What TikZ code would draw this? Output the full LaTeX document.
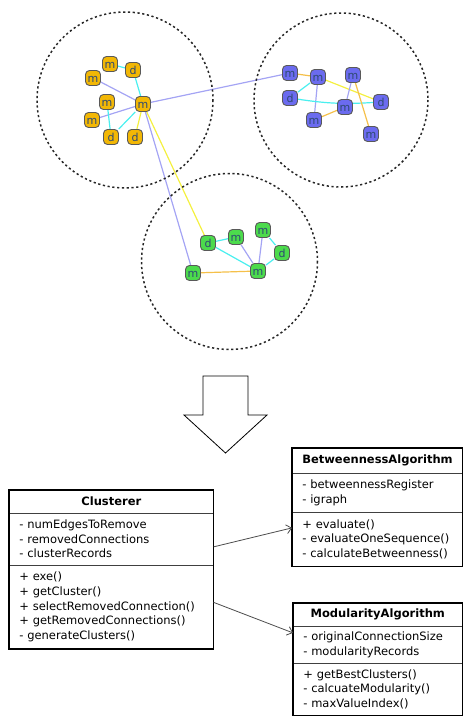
\documentclass[tikz,border=0pt]{standalone}
\usepackage{fontspec}
\setsansfont{DejaVu Sans}
\usetikzlibrary{shapes.multipart,arrows.meta,backgrounds}

\definecolor{nodeorange}{HTML}{F2B705}
\definecolor{nodeblue}{HTML}{6B6BEF}
\definecolor{nodegreen}{HTML}{4CDB4C}
\definecolor{edgecyan}{HTML}{4AEFEF}
\definecolor{edgelav}{HTML}{A4A4F4}
\definecolor{edgeyellow}{HTML}{F4F040}
\definecolor{edgeorange}{HTML}{F5C04A}
\definecolor{lettercol}{HTML}{2E4A73}

\tikzset{
  vertex/.style={draw=black!65, line width=0.9pt, rounded corners=4pt, minimum size=15pt,
    inner sep=0pt, text height=8pt, text depth=0pt, text=lettercol,
    font=\sffamily\fontsize{11}{11}\selectfont},
  link/.style={line width=1.2pt},
  cluster/.style={draw=black!85, line width=1.5pt, dash pattern=on 2.2pt off 2.6pt},
  umlclass/.style={rectangle split, rectangle split parts=3, draw=black!75, line width=0.6pt,
    inner xsep=10pt, inner ysep=6.5pt, align=left, anchor=north west,
    font=\sffamily\fontsize{11.5}{14.8}\selectfont},
  assoc/.style={draw=black!70, line width=0.8pt, -{Straight Barb[length=5pt,width=9pt]}}
}

\begin{document}
\begin{tikzpicture}[x=1pt, y=-1pt]

    \useasboundingbox (0,0) rectangle (465,716);

    %% Clusters
    \draw[cluster] (125,100) circle (88);
    \draw[cluster] (341,100) circle (87);
    \draw[cluster] (229.5,261.5) circle (88);

    % Orange cluster
    \node[vertex, fill=nodeorange] (o1) at (110,64) {m};
    \node[vertex, fill=nodeorange] (o2) at (133,70) {d};
    \node[vertex, fill=nodeorange] (o3) at (93,78) {m};
    \node[vertex, fill=nodeorange] (o4) at (107,102) {m};
    \node[vertex, fill=nodeorange] (o5) at (143,104) {m};
    \node[vertex, fill=nodeorange] (o6) at (92,120) {m};
    \node[vertex, fill=nodeorange] (o7) at (111,137) {d};
    \node[vertex, fill=nodeorange] (o8) at (135,137) {d};

    % Blue cluster
    \node[vertex, fill=nodeblue] (b1) at (290,73) {m};
    \node[vertex, fill=nodeblue] (b2) at (318,77) {m};
    \node[vertex, fill=nodeblue] (b3) at (353,75) {m};
    \node[vertex, fill=nodeblue] (b4) at (290,98) {d};
    \node[vertex, fill=nodeblue] (b5) at (345,107) {m};
    \node[vertex, fill=nodeblue] (b6) at (381,102) {d};
    \node[vertex, fill=nodeblue] (b7) at (314,120) {m};
    \node[vertex, fill=nodeblue] (b8) at (371,134) {m};

    % Green cluster
    \node[vertex, fill=nodegreen] (g1) at (208,243) {d};
    \node[vertex, fill=nodegreen] (g2) at (236,237) {m};
    \node[vertex, fill=nodegreen] (g3) at (263,230) {m};
    \node[vertex, fill=nodegreen] (g4) at (282,253) {d};
    \node[vertex, fill=nodegreen] (g5) at (193,273) {m};
    \node[vertex, fill=nodegreen] (g6) at (258,271) {m};

    % Links
    \begin{scope}[on background layer]
        \draw[link, edgecyan] (o1) -- (o2);
        \draw[link, edgecyan] (o2) -- (o5);
        \draw[link, edgelav] (o3) -- (o5);
        \draw[link, edgelav] (o6) -- (o5);
        \draw[link, edgecyan] (o4) -- (o7);
        \draw[link, edgecyan] (o5) -- (o7);
        \draw[link, edgeyellow] (o5) -- (o8);
        \draw[link, edgelav] (o5) -- (b1);
        \draw[link, edgeyellow] (o5) -- (g1);
        \draw[link, edgelav] (o5) -- (g5);
        \draw[link, edgeorange] (b1) -- (b2);
        \draw[link, edgeyellow] (b2) -- (b6);
        \draw[link, edgecyan] (b2) -- (b4);
        \draw[link, edgelav] (b2) -- (b7);
        \draw[link, edgecyan] (b4) to[bend right=6] (b6);
        \draw[link, edgeorange] (b7) -- (b5);
        \draw[link, edgelav] (b3) -- (b5);
        \draw[link, edgeorange] (b3) -- (b8);
        \draw[link, edgecyan] (g1) -- (g2);
        \draw[link, edgecyan] (g1) -- (g6);
        \draw[link, edgelav] (g2) -- (g6);
        \draw[link, edgelav] (g3) -- (g6);
        \draw[link, edgecyan] (g3) -- (g4);
        \draw[link, edgecyan] (g4) -- (g6);
        \draw[link, edgeorange] (g5) -- (g6);
    \end{scope}

    %% Transition arrow
    \draw[line width=0.8pt] (203,376) -- (248,376) -- (248,415) -- (267,415) -- (225.5,453)
        -- (184,415) -- (203,415) -- cycle;

    %% Classes
    \node[umlclass, text width=184pt] (clusterer) at (9,490) {%
        {\centering\bfseries Clusterer\par}
        \nodepart{two}
        - numEdgesToRemove\\
        - removedConnections\\
        - clusterRecords
        \nodepart{three}
        + exe()\\
        + getCluster()\\
        + selectRemovedConnection()\\
        + getRemovedConnections()\\
        - generateClusters()};
    \draw[line width=1.6pt] (clusterer.north west) rectangle (clusterer.south east);

    \node[umlclass, text width=150pt] (betweenness) at (292,448) {%
        {\centering\bfseries BetweennessAlgorithm\par}
        \nodepart{two}
        - betweennessRegister\\
        - igraph
        \nodepart{three}
        + evaluate()\\
        - evaluateOneSequence()\\
        - calculateBetweenness()};
    \draw[line width=1.6pt] (betweenness.north west) rectangle (betweenness.south east);

    \node[umlclass, text width=149pt, inner ysep=5.5pt] (modularity) at (293,603) {%
        {\centering\bfseries ModularityAlgorithm\par}
        \nodepart{two}
        - originalConnectionSize\\
        - modularityRecords
        \nodepart{three}
        + getBestClusters()\\
        - calcuateModularity()\\
        - maxValueIndex()\\[6pt]};
    \draw[line width=1.6pt] (modularity.north west) rectangle (modularity.south east);

    % Associations
    \draw[assoc] ([yshift=-8pt]clusterer.two east) -- ([yshift=11.5pt]betweenness.three west);
    \draw[assoc] ([yshift=4.5pt]clusterer.three east) -- ([yshift=12pt]modularity.two west);

\end{tikzpicture}
\end{document}
